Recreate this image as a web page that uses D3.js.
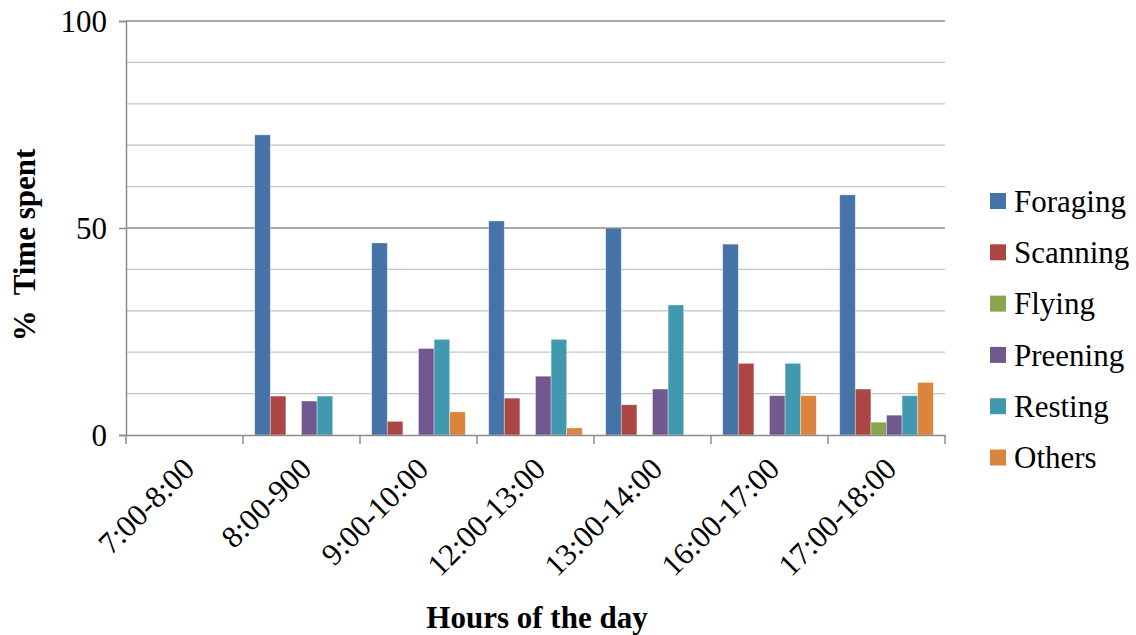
<!DOCTYPE html>
<html>
<head>
<meta charset="utf-8">
<script src="https://cdn.jsdelivr.net/npm/d3@7"></script>
<style>
  html, body { margin: 0; padding: 0; background: #fff; }
  svg { display: block; }
</style>
</head>
<body>
<svg id="chart" width="1136" height="635"></svg>
<script>
// Share of time spent per activity, by hour of the day
const hours = ["7:00-8:00", "8:00-900", "9:00-10:00", "12:00-13:00", "13:00-14:00", "16:00-17:00", "17:00-18:00"];
const activities = ["Foraging", "Scanning", "Flying", "Preening", "Resting", "Others"];
const colors = ["#4572A7", "#AA4643", "#89A54E", "#71588F", "#4198AF", "#DB843D"];

const foraging = [0, 72.5, 46.4, 51.7, 50.0, 46.1, 58.0];
const scanning = [0, 9.4, 3.3, 8.9, 7.3, 17.3, 11.1];
const flying   = [0, 0, 0, 0, 0, 0, 3.1];
const preening = [0, 8.2, 20.9, 14.2, 11.1, 9.5, 4.8];
const resting  = [0, 9.4, 23.1, 23.1, 31.4, 17.3, 9.5];
const others   = [0, 0, 5.6, 1.7, 0, 9.5, 12.7];

const yMajorTicks = [0, 50, 100];
const yMinorTicks = [10, 20, 30, 40, 60, 70, 80, 90];

const series = [foraging, scanning, flying, preening, resting, others];

const FONT = "'Liberation Serif', 'Times New Roman', Times, serif";
const FS = "31px";

const svg = d3.select("#chart").attr("font-family", FONT);
const margin = { left: 126, right: 191, top: 21, bottom: 200 };
const W = 1136, H = 635;
const plotW = W - margin.left - margin.right;
const plotH = H - margin.top - margin.bottom;

const g = svg.append("g").attr("transform", `translate(${margin.left},${margin.top})`);

const x0 = d3.scaleBand().domain(hours).range([0, plotW]).paddingInner(0).paddingOuter(0);
// gap between groups equals 1.5 bar widths
const barW = x0.bandwidth() / (activities.length + 1.5);
const x1 = d3.scaleBand().domain(activities).range([barW * 0.75, x0.bandwidth() - barW * 0.75]).padding(0);
const y = d3.scaleLinear().domain([0, 100]).range([plotH, 0]);

// Gridlines
g.append("g").selectAll("line").data(yMinorTicks).join("line")
  .attr("x1", 0).attr("x2", plotW)
  .attr("y1", d => y(d)).attr("y2", d => y(d))
  .attr("stroke", "#c4c4c4").attr("stroke-width", 1.3);
g.append("g").selectAll("line").data(yMajorTicks.filter(d => d > 0)).join("line")
  .attr("x1", 0).attr("x2", plotW)
  .attr("y1", d => y(d)).attr("y2", d => y(d))
  .attr("stroke", "#8c8c8c").attr("stroke-width", 1.3);

// Bars
const groups = g.append("g").selectAll("g").data(hours).join("g")
  .attr("transform", d => `translate(${x0(d)},0)`);
groups.selectAll("rect")
  .data((h, i) => activities.map((a, k) => ({ a, k, v: series[k][i] })))
  .join("rect")
  .attr("x", d => x1(d.a))
  .attr("width", x1.bandwidth())
  .attr("y", d => y(d.v))
  .attr("height", d => y(0) - y(d.v))
  .attr("fill", d => colors[d.k])
  .attr("stroke", d => d.v > 0 ? "rgba(255,255,255,0.45)" : "none")
  .attr("stroke-width", 0.8);

// Y axis
const yAxis = g.append("g")
  .call(d3.axisLeft(y).tickValues(yMajorTicks).tickSize(7).tickPadding(12).tickFormat(d3.format("d")))
  .attr("font-family", FONT).attr("font-size", FS);
yAxis.select(".domain").attr("stroke", "#8c8c8c").attr("stroke-width", 1.5);
yAxis.selectAll(".tick line").attr("stroke", "#8c8c8c").attr("stroke-width", 1.5);
yAxis.selectAll(".tick text").attr("fill", "#000").attr("dy", "0.34em");

// X axis
const xAxis = g.append("g").attr("transform", `translate(0,${plotH})`)
  .call(d3.axisBottom(x0).tickSize(0).tickFormat(""))
  .attr("font-family", FONT).attr("font-size", FS);
xAxis.select(".domain").attr("stroke", "#8c8c8c").attr("stroke-width", 1.5);
xAxis.selectAll(".tick").remove();
// group separators below the axis
const seps = [0].concat(hours.map(h => x0(h) + x0.bandwidth()));
xAxis.append("g").selectAll("line").data(seps).join("line")
  .attr("x1", d => d).attr("x2", d => d)
  .attr("y1", 0).attr("y2", 9)
  .attr("stroke", "#8c8c8c").attr("stroke-width", 1.5);

xAxis.append("g").selectAll("text").data(hours).join("text")
  .attr("transform", d => `translate(${x0(d) + x0.bandwidth() / 2 + 4},${28}) rotate(-45)`)
  .attr("text-anchor", "end")
  .attr("dy", "0.35em")
  .attr("fill", "#000")
  .text(d => d);

// Axis titles
svg.append("text")
  .attr("x", 537).attr("y", 628)
  .attr("text-anchor", "middle")
  .attr("font-size", FS).attr("font-weight", "bold")
  .text("Hours of the day");

svg.append("text")
  .attr("transform", `translate(35,${245}) rotate(-90)`)
  .attr("text-anchor", "middle")
  .attr("font-size", FS).attr("font-weight", "bold")
  .style("white-space", "pre")
  .text("%  Time spent");

// Legend
const legend = svg.append("g").attr("transform", "translate(990,201)").attr("font-size", FS);
const rows = legend.selectAll("g").data(activities).join("g")
  .attr("transform", (d, i) => `translate(0,${i * 51.3})`);
rows.append("rect").attr("x", 0).attr("y", -8).attr("width", 16).attr("height", 16)
  .attr("fill", (d, i) => colors[i]);
rows.append("text").attr("x", 24).attr("y", 0).attr("dy", "0.35em")
  .text(d => d);
</script>
</body>
</html>
